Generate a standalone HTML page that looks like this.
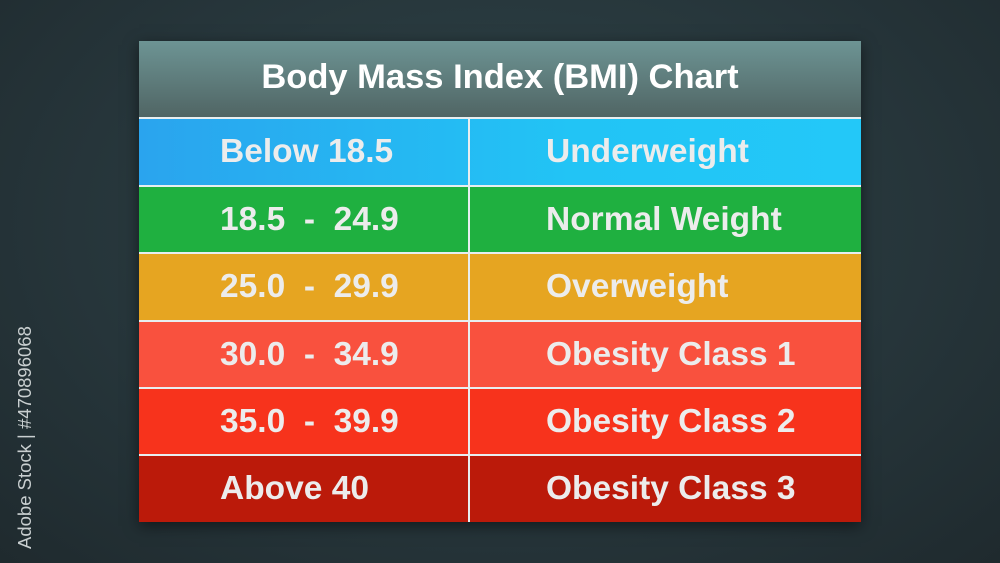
<!DOCTYPE html>
<html><head><style>
body{margin:0;width:1000px;height:563px;overflow:hidden;background:radial-gradient(ellipse at 50% 40%,#2f4448 0%,#26353a 60%,#1f2a2e 100%);font-family:"Liberation Sans",sans-serif;position:relative}
.t{position:absolute;left:139px;top:41px;width:722px;height:481px;box-shadow:0 4px 14px rgba(0,0,0,.5)}
.h{position:absolute;left:0;top:0;width:722px;height:76px;background:linear-gradient(#6d9494,#506564);color:#fff;font-weight:bold;font-size:34.5px;text-align:center;line-height:72px}
.r{position:absolute;left:0;width:722px;border-top:2px solid #e8eef0;box-sizing:border-box;color:#ececec;font-weight:bold;font-size:33.5px}
.r span{position:absolute;top:50%;transform:translateY(-50%);white-space:nowrap}
.a{left:81px}.b{left:407px}
.v{position:absolute;left:329px;top:76px;width:2px;height:405px;background:#e8eef0}
.w{position:absolute;left:14px;top:549px;transform-origin:0 0;transform:rotate(-90deg);color:#c9cfd0;font-size:18.5px;white-space:nowrap}
</style></head><body>
<div class="w">Adobe Stock | #470896068</div>
<div class="t">
<div class="h">Body Mass Index (BMI) Chart</div>
<div class="r" style="top:76px;height:68px;background:linear-gradient(90deg,#2aa4ee,#22c4f5 60%,#23c8f8)"><span class="a">Below 18.5</span><span class="b">Underweight</span></div>
<div class="r" style="top:144px;height:67px;background:#1fb040"><span class="a">18.5&nbsp; - &nbsp;24.9</span><span class="b">Normal Weight</span></div>
<div class="r" style="top:211px;height:68px;background:#e6a521"><span class="a">25.0&nbsp; - &nbsp;29.9</span><span class="b">Overweight</span></div>
<div class="r" style="top:279px;height:67px;background:#f9513e"><span class="a">30.0&nbsp; - &nbsp;34.9</span><span class="b">Obesity Class 1</span></div>
<div class="r" style="top:346px;height:67px;background:#f7331c"><span class="a">35.0&nbsp; - &nbsp;39.9</span><span class="b">Obesity Class 2</span></div>
<div class="r" style="top:413px;height:68px;background:#bb1a0a"><span class="a">Above 40</span><span class="b">Obesity Class 3</span></div>
<div class="v"></div>
</div>
</body></html>
